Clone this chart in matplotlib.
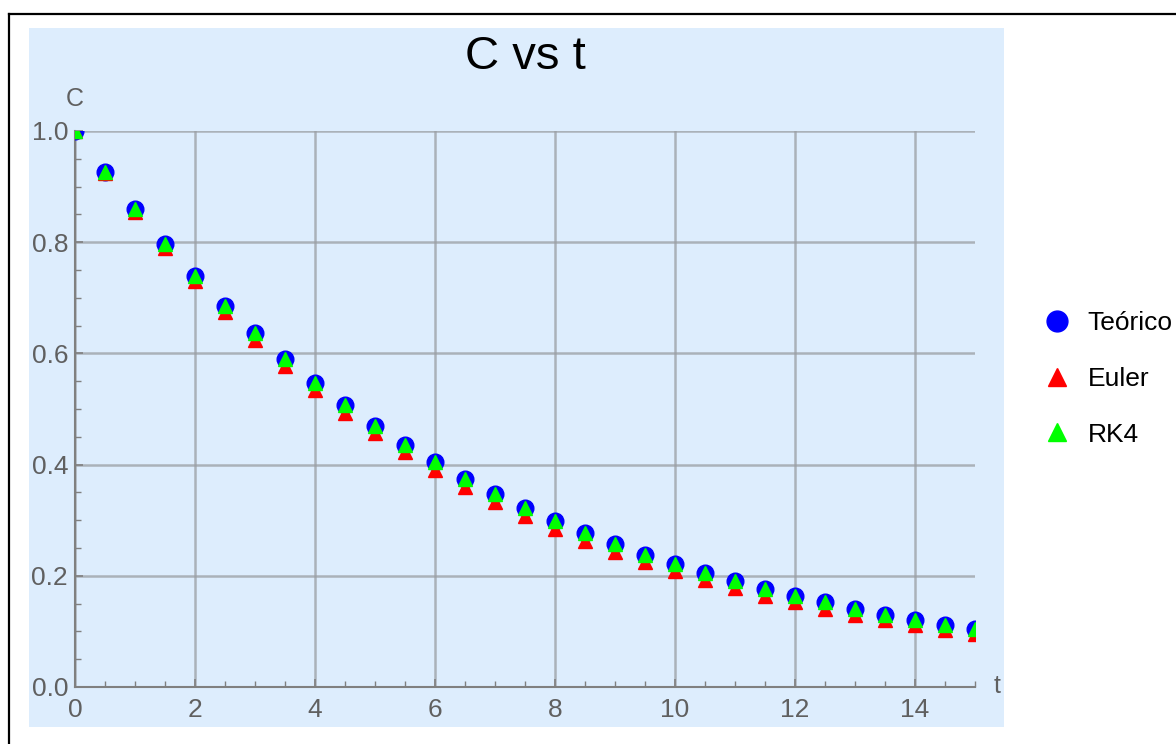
import matplotlib
matplotlib.use("Agg")
import matplotlib.pyplot as plt
from matplotlib.patches import Rectangle
from matplotlib.lines import Line2D
from matplotlib.ticker import MultipleLocator

# tiempos y soluciones (paso h = 0.5)
t = [0.0, 0.5, 1.0, 1.5, 2.0, 2.5, 3.0, 3.5, 4.0, 4.5, 5.0, 5.5, 6.0, 6.5, 7.0, 7.5,
     8.0, 8.5, 9.0, 9.5, 10.0, 10.5, 11.0, 11.5, 12.0, 12.5, 13.0, 13.5, 14.0, 14.5, 15.0]
teorico = [1.000, 0.927, 0.860, 0.797, 0.739, 0.686, 0.636, 0.590, 0.547, 0.507, 0.470,
           0.436, 0.404, 0.375, 0.348, 0.322, 0.299, 0.277, 0.257, 0.238, 0.221, 0.205,
           0.190, 0.176, 0.163, 0.152, 0.141, 0.130, 0.121, 0.112, 0.104]
euler = [1.000, 0.925, 0.855, 0.790, 0.731, 0.675, 0.624, 0.577, 0.534, 0.493, 0.456,
         0.422, 0.390, 0.360, 0.333, 0.308, 0.285, 0.263, 0.243, 0.225, 0.208, 0.192,
         0.178, 0.164, 0.152, 0.141, 0.130, 0.120, 0.111, 0.103, 0.095]
rk4 = [1.000, 0.927, 0.860, 0.797, 0.739, 0.686, 0.636, 0.590, 0.547, 0.507, 0.470,
       0.436, 0.404, 0.375, 0.348, 0.322, 0.299, 0.277, 0.257, 0.238, 0.221, 0.205,
       0.190, 0.176, 0.163, 0.152, 0.141, 0.130, 0.121, 0.112, 0.104]

W, H = 1176, 744
plt.rcParams['font.family'] = ['Liberation Sans', 'DejaVu Sans']

fig = plt.figure(figsize=(W / 100, H / 100), dpi=100)
fig.patch.set_facecolor('white')

# fondo azul claro del grafico
fig.add_artist(Rectangle((29 / W, 1 - 727 / H), (1004 - 29) / W, (727 - 28) / H,
                         transform=fig.transFigure, facecolor='#ddedfd',
                         edgecolor='none', zorder=0))
# marco negro
fig.add_artist(Line2D([8.5 / W, 8.5 / W], [0, 1 - 14 / H], transform=fig.transFigure,
                      color='black', lw=1.6))
fig.add_artist(Line2D([8.5 / W, 1], [1 - 14 / H, 1 - 14 / H], transform=fig.transFigure,
                      color='black', lw=1.6))

ax = fig.add_axes([75 / W, 1 - 687 / H, 900 / W, 556 / H])
ax.set_facecolor('none')

ax.plot(t, teorico, 'o', color='blue', markersize=12, label='Teórico', zorder=3)
ax.plot(t, euler, '^', color='red', markersize=10.5, label='Euler', zorder=4)
ax.plot(t, rk4, '^', color='#00ff00', markersize=10.5, label='RK4', zorder=5)

ax.set_xlim(0, 15)
ax.set_ylim(0, 1)
ax.xaxis.set_major_locator(MultipleLocator(2))
ax.xaxis.set_minor_locator(MultipleLocator(0.5))
ax.yaxis.set_major_locator(MultipleLocator(0.2))
ax.yaxis.set_minor_locator(MultipleLocator(0.05))
ax.yaxis.set_major_formatter(plt.FormatStrFormatter('%.1f'))

ax.grid(True, which='major', color='#9a9ea3', lw=1.8, alpha=0.75)
ax.set_axisbelow(True)
for s in ['top', 'right']:
    ax.spines[s].set_visible(False)
for s in ['left', 'bottom']:
    ax.spines[s].set_color('#808080')
    ax.spines[s].set_linewidth(1.5)

ax.tick_params(which='both', direction='in', color='#808080', labelcolor='#606060',
               labelsize=19)
ax.tick_params(which='major', length=6, width=1.2)
ax.tick_params(which='minor', length=4, width=1.0)
ax.tick_params(axis='x', pad=8)
ax.tick_params(axis='y', pad=5)

fig.text(75 / W, 1 - 99 / H, 'C', color='#606060', fontsize=18, ha='center', va='center')
fig.text(994 / W, 1 - 686 / H, 't', color='#606060', fontsize=18, ha='left', va='center')
fig.text(525 / W, 1 - 57 / H, 'C vs t', color='black', fontsize=34, ha='center', va='center')

# leyenda
handles = [Line2D([], [], ls='none', marker='o', color='blue', markersize=15),
           Line2D([], [], ls='none', marker='^', color='red', markersize=13),
           Line2D([], [], ls='none', marker='^', color='#00ff00', markersize=13)]
fig.legend(handles, ['Teórico', 'Euler', 'RK4'], loc='center left',
           bbox_to_anchor=(1017 / W, 1 - 379 / H), frameon=False, fontsize=19,
           labelspacing=1.2, handletextpad=0.57, handlelength=1.2)

fig.savefig('out.png', dpi=100)
